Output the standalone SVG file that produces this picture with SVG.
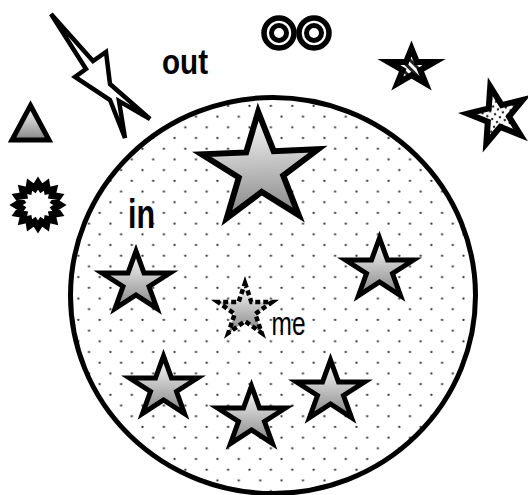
<svg xmlns="http://www.w3.org/2000/svg" xmlns:xlink="http://www.w3.org/1999/xlink" width="528" height="495" viewBox="0 0 528 495">
<defs>
<style>
.ol{stroke:#000;stroke-linejoin:miter}
.gs{fill:url(#g);stroke:#000;stroke-width:5;stroke-linejoin:miter}
.lbl{font-family:"Liberation Sans",Arial,sans-serif;fill:#000}
</style>
<linearGradient id="g" x1="0" y1="0" x2="0" y2="1">
<stop offset="0" stop-color="#ffffff"/>
<stop offset="1" stop-color="#858585"/>
</linearGradient>
<pattern id="dots" patternUnits="userSpaceOnUse" width="21.4" height="21.4">
<rect width="21.4" height="21.4" fill="#fff"/>
<circle cx="3.4" cy="9.6" r="1.15" fill="#333"/>
<circle cx="14.1" cy="20.25" r="1.15" fill="#333"/>
</pattern>
<pattern id="fdots" patternUnits="userSpaceOnUse" width="8" height="8">
<rect width="8" height="8" fill="#fff"/>
<circle cx="2" cy="2" r="1.2" fill="#222"/>
<circle cx="6" cy="6" r="1.2" fill="#222"/>
</pattern>
<pattern id="stripes" patternUnits="userSpaceOnUse" width="6" height="6" patternTransform="rotate(-45)">
<rect width="6" height="6" fill="#fff"/>
<rect width="3" height="6" fill="#222"/>
</pattern>
<polygon id="s" points="34,0 42,22 68,22 47,35.5 55,57.5 34,43.9 13,57.5 21,35.5 0,22 26,22"/>
</defs>
<rect width="528" height="495" fill="#fff"/>

<g id="circle">
<ellipse cx="273" cy="295.5" rx="202.5" ry="198" fill="url(#dots)" stroke="#000" stroke-width="5"/>
</g>

<g id="bolt">
<polygon class="ol" points="51,14 93,61 106,52 110,84 150,119 119,101 125,138 110,100 75,77 86,69" fill="#fff" stroke-width="4.5"/>
</g>

<g id="triangle">
<polygon class="ol" points="30.5,105.5 49,140 12,140" fill="url(#g)" stroke-width="5"/>
</g>

<g id="seal">
<polygon class="ol" transform="translate(38,205)" fill="#fff" stroke-width="7" points="0,-22 3.32,-16.67 8.42,-20.33 9.45,-14.14 15.56,-15.56 14.14,-9.45 20.33,-8.42 16.67,-3.32 22,0 16.67,3.32 20.33,8.42 14.14,9.45 15.56,15.56 9.45,14.14 8.42,20.33 3.32,16.67 0,22 -3.32,16.67 -8.42,20.33 -9.45,14.14 -15.56,15.56 -14.14,9.45 -20.33,8.42 -16.67,3.32 -22,0 -16.67,-3.32 -20.33,-8.42 -14.14,-9.45 -15.56,-15.56 -9.45,-14.14 -8.42,-20.33 -3.32,-16.67"/>
</g>

<g id="donuts">
<circle cx="279" cy="33" r="15" fill="#fff" stroke="#000" stroke-width="5.5"/>
<circle cx="279" cy="33" r="7.5" fill="#fff" stroke="#000" stroke-width="5"/>
<circle cx="314" cy="33" r="15" fill="#fff" stroke="#000" stroke-width="5.5"/>
<circle cx="314" cy="33" r="7.5" fill="#fff" stroke="#000" stroke-width="5"/>
</g>

<g id="star-striped">
<polygon class="ol" fill="url(#stripes)" stroke-width="6" points="411.5,48.5 416.9,61.9 434.5,61.9 420.3,70.1 425.7,83.5 411.5,75.2 397.3,83.5 402.7,70.1 388.5,61.9 406.1,61.9"/>
</g>

<g id="star-dotted">
<polygon class="ol" fill="url(#fdots)" stroke-width="6" transform="translate(497.5,115.7) rotate(-14)" points="0,-30 6.7,-9.3 28.5,-9.3 10.9,3.6 17.6,24.3 0,11.5 -17.6,24.3 -10.9,3.6 -28.5,-9.3 -6.7,-9.3"/>
</g>

<g id="star-big">
<polygon class="ol" fill="url(#g)" stroke-width="6" transform="rotate(-2.5 260.5 165)" points="260.5,111.7 274.25,151.8 318.75,151.8 282.75,176.6 296.5,216.7 260.5,191.9 224.5,216.7 238.25,176.6 202.25,151.8 246.75,151.8"/>
</g>

<g id="star-in-left"><use xlink:href="#s" href="#s" class="gs" x="102" y="251"/></g>
<g id="star-in-right"><use xlink:href="#s" href="#s" class="gs" x="345.5" y="238"/></g>
<g id="star-bottom-left"><use xlink:href="#s" href="#s" class="gs" x="129.5" y="356"/></g>
<g id="star-bottom-mid"><use xlink:href="#s" href="#s" class="gs" x="217.5" y="386"/></g>
<g id="star-bottom-right"><use xlink:href="#s" href="#s" class="gs" x="296.5" y="360"/></g>

<g id="star-me">
<polygon fill="url(#g)" stroke="#000" stroke-width="4.5" stroke-dasharray="5 3" stroke-linejoin="miter" points="245,283 251.4,302.1 272,302.1 255.3,313.9 261.7,333 245,321.2 228.3,333 234.7,313.9 218,302.1 238.6,302.1"/>
<text class="lbl" x="271.5" y="335" font-size="33" textLength="34" lengthAdjust="spacingAndGlyphs">me</text>
</g>

<g id="label-out">
<text class="lbl" x="162" y="74" font-size="35" font-weight="bold" textLength="46" lengthAdjust="spacingAndGlyphs">out</text>
</g>
<g id="label-in">
<text class="lbl" x="128" y="228" font-size="41" font-weight="bold" textLength="27" lengthAdjust="spacingAndGlyphs">in</text>
</g>
</svg>
